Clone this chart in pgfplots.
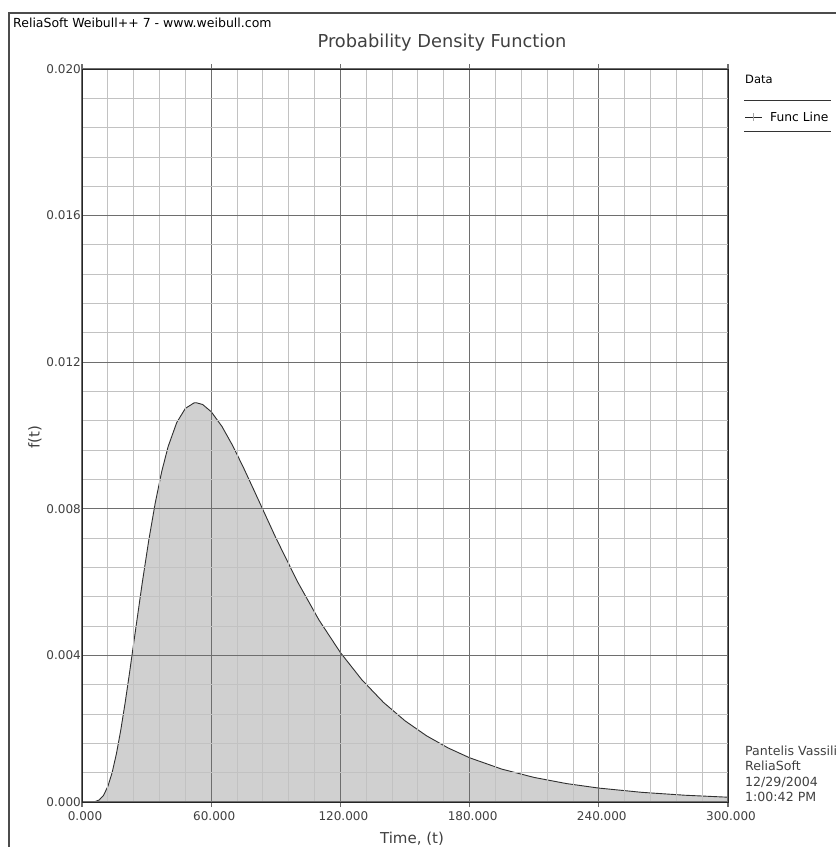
\documentclass[border=0pt]{standalone}
\usepackage{pgfplots}
\pgfplotsset{compat=1.18}
\usepackage{pgfplotstable}
\usepackage{fontspec}
\setmainfont{DejaVu Sans}

\definecolor{fillgray}{HTML}{D0D0D0}
\definecolor{minorgrid}{HTML}{C2C2C2}
\definecolor{majorgrid}{HTML}{6E6E6E}
\definecolor{curvecol}{HTML}{303030}
\definecolor{textgray}{HTML}{404040}

% probability density f(t) against time t
\pgfplotstableread{
t    f
0    0
4    0.0000006
6    0.00001
8    0.0000567
10   0.000182
12   0.000425
14   0.000805
16   0.001322
18   0.001961
20   0.002696
22   0.003495
25   0.004750
28   0.005988
31   0.007139
34   0.008156
37   0.009011
40   0.009699
44   0.010355
48   0.010740
52   0.010889
53   0.010895
56   0.010847
60   0.010650
65   0.010247
70   0.009721
75   0.009123
80   0.008489
90   0.007211
100  0.006020
110  0.004971
120  0.004078
130  0.003332
140  0.002718
150  0.002216
160  0.001807
170  0.001476
180  0.001207
195  0.000897
210  0.000670
225  0.000503
240  0.000380
260  0.000264
280  0.000185
300  0.000131
}\pdftable

\begin{document}
\begin{tikzpicture}
\useasboundingbox (0pt,0pt) rectangle (836pt,-847pt);
% outer frame
\draw[line width=1.2pt, color=black!70] (9pt,-847pt) -- (9pt,-13pt) -- (836pt,-13pt);
% header and title
\node[anchor=base west, inner sep=0pt, font=\fontsize{12.5}{14}\selectfont] at (13pt,-27.5pt) {ReliaSoft Weibull++ 7 - www.weibull.com};
\node[inner sep=0pt, text=textgray, font=\fontsize{17.8}{20}\selectfont] at (442pt,-43pt) {Probability Density Function};

\begin{axis}[
  at={(82pt,-802pt)}, anchor=south west,
  scale only axis, width=646pt, height=733pt,
  xmin=0, xmax=300, ymin=0, ymax=0.02,
  xtick={0,60,...,300},
  ytick={0,0.004,0.008,0.012,0.016,0.020},
  minor x tick num=4, minor y tick num=4,
  grid=both,
  major grid style={color=majorgrid, line width=1.1pt},
  minor grid style={color=minorgrid, line width=0.9pt},
  axis line style={color=black!85, line width=1pt},
  axis on top,
  scaled y ticks=false, scaled x ticks=false,
  tick align=outside,
  major tick length=5pt, minor tick length=0pt,
  xtick style={color=majorgrid, line width=1.1pt},
  ytick style={draw=none},
  tick label style={font=\fontsize{12}{14}\selectfont, text=textgray},
  /pgf/number format/assume math mode=true,
  /pgf/number format/fixed,
  /pgf/number format/fixed zerofill,
  /pgf/number format/precision=3,
  xticklabel style={yshift=-1pt, xshift=3pt},
  yticklabel style={anchor=east, inner sep=0pt, xshift=4pt},
]
\addplot[fill=fillgray, draw=none] table {\pdftable} \closedcycle;
\addplot[draw=curvecol, line width=0.9pt] table {\pdftable};
\end{axis}

% axis titles
\node[rotate=90, text=textgray, font=\fontsize{15}{17}\selectfont] at (35pt,-437pt) {f(t)};
\node[text=textgray, font=\fontsize{15}{17}\selectfont] at (412pt,-839pt) {Time, (t)};

% legend
\node[anchor=west, inner sep=0pt, font=\fontsize{11.5}{13}\selectfont] at (745pt,-79pt) {Data};
\draw[line width=1pt, color=black!80] (744pt,-100pt) -- (831pt,-100pt);
\draw[line width=1pt, color=black!85] (745pt,-117pt) -- (762pt,-117pt);
\draw[line width=1.2pt, color=black!35] (753.5pt,-113pt) -- (753.5pt,-121pt);
\node[anchor=west, inner sep=0pt, font=\fontsize{12.3}{14}\selectfont] at (770pt,-117pt) {Func Line};
\draw[line width=1pt, color=black!80] (744pt,-131pt) -- (831pt,-131pt);

% side notes
\node[anchor=north west, inner sep=0pt, align=left, text=textgray, font=\fontsize{12.6}{15.2}\selectfont] at (745pt,-746pt) {Pantelis Vassiliou\\ReliaSoft\\12/29/2004\\1:00:42 PM};
\end{tikzpicture}
\end{document}
